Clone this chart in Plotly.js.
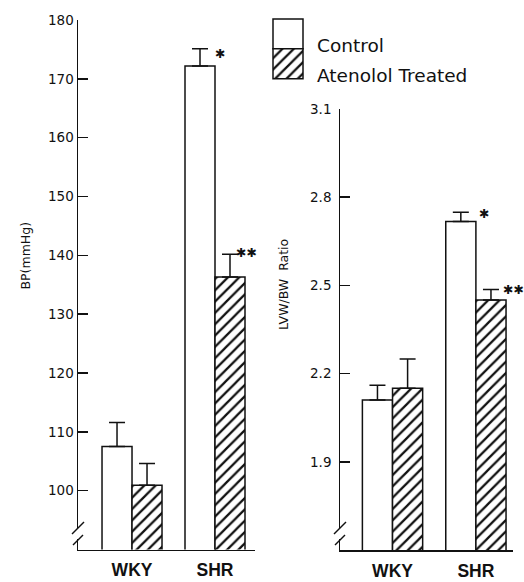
<!DOCTYPE html>
<html>
<head>
<meta charset="utf-8">
<script src="https://cdn.plot.ly/plotly-3.0.1.min.js"></script>
<style>html,body{margin:0;padding:0;background:#fff;}#chart{width:524px;height:582px;}</style>
</head>
<body>
<div id="chart"></div>
<script>
// ---- data ----
const categories = ['WKY', 'SHR'];
const seriesNames = ['Control', 'Atenolol Treated'];

const bpControl = [107.5, 172.2];
const bpControlErr = [4.1, 2.9];
const bpAtenolol = [100.9, 136.3];
const bpAtenololErr = [3.7, 3.9];

const lvwControl = [2.11, 2.717];
const lvwControlErr = [0.05, 0.032];
const lvwAtenolol = [2.15, 2.45];
const lvwAtenololErr = [0.10, 0.036];

const bpTicks = [100, 110, 120, 130, 140, 150, 160, 170, 180];
const lvwTicks = [1.9, 2.2, 2.5, 2.8, 3.1];
const lvwTickText = ['1.9', '2.2', '2.5', '2.8', '3.1'];

const bpTitle = 'BP(mmHg)';
const lvwTitle = 'LVW/BW\u00A0 Ratio';

// ---- helpers ----
const W = 524, H = 582;
const px = v => v / W;
const py = v => 1 - v / H;
const zeros = n => new Array(n).fill(0);

const black = '#111';
const hatch = {shape: '/', fgcolor: black, bgcolor: '#fff', size: 8, solidity: 0.28};
const lineSpec = {color: black, width: 1.5};
const errSpec = arr => ({type: 'data', symmetric: false, array: arr, arrayminus: zeros(arr.length),
  color: black, thickness: 1.5, width: 8});

const traces = [
  {type: 'bar', name: seriesNames[0], x: categories, y: bpControl, xaxis: 'x', yaxis: 'y',
   marker: {color: '#fff', line: lineSpec}, error_y: errSpec(bpControlErr), showlegend: false},
  {type: 'bar', name: seriesNames[1], x: categories, y: bpAtenolol, xaxis: 'x', yaxis: 'y',
   marker: {color: '#fff', pattern: hatch, line: lineSpec}, error_y: errSpec(bpAtenololErr), showlegend: false},
  {type: 'bar', name: seriesNames[0], x: categories, y: lvwControl, xaxis: 'x2', yaxis: 'y2',
   marker: {color: '#fff', line: lineSpec}, error_y: errSpec(lvwControlErr), showlegend: false},
  {type: 'bar', name: seriesNames[1], x: categories, y: lvwAtenolol, xaxis: 'x2', yaxis: 'y2',
   marker: {color: '#fff', pattern: hatch, line: lineSpec}, error_y: errSpec(lvwAtenololErr), showlegend: false},
  // legend swatches
  {type: 'bar', name: seriesNames[0], x: [0], y: [1], base: [1], width: [1], offset: [-0.5],
   xaxis: 'x3', yaxis: 'y3', marker: {color: '#fff', line: lineSpec}, showlegend: false, hoverinfo: 'skip'},
  {type: 'bar', name: seriesNames[1], x: [0], y: [1], base: [0], width: [1], offset: [-0.5],
   xaxis: 'x3', yaxis: 'y3', marker: {color: '#fff', pattern: hatch, line: lineSpec}, showlegend: false, hoverinfo: 'skip'}
];

const tickFont = {family: 'DejaVu Sans', size: 13.5, color: black};
const catFont = {family: 'Liberation Sans', size: 17.5, color: black, weight: 'bold'};

const yCommon = {showline: true, linecolor: black, linewidth: 1.5, ticks: 'inside', ticklen: 10,
  tickwidth: 1.5, tickcolor: black, showgrid: false, zeroline: false, tickfont: tickFont, fixedrange: true,
  tickmode: 'array', layer: 'above traces'};
const xCommon = {showline: true, linecolor: black, linewidth: 1.5, ticks: '', showgrid: false,
  zeroline: false, tickfont: catFont, ticklabelstandoff: 4, type: 'category', fixedrange: true};

const starFont = {family: 'DejaVu Sans', size: 12.5, color: black};
const star = (xref, yref, yval, txt, xs, ys) => ({xref, yref, x: categories[1], y: yval, text: txt,
  showarrow: false, xanchor: 'left', yanchor: 'middle', xshift: xs, yshift: ys, font: starFont});

const annotations = [
  star('x', 'y', bpControl[1] + bpControlErr[1], '\u2731', -2, -5),
  star('x', 'y', bpAtenolol[1] + bpAtenololErr[1], '\u2731\u2731', 19, 2),
  star('x2', 'y2', lvwControl[1] + lvwControlErr[1], '\u2731', 1, -1),
  star('x2', 'y2', lvwAtenolol[1] + lvwAtenololErr[1], '\u2731\u2731', 25, 0),
  {xref: 'paper', yref: 'paper', x: px(15), y: py(256), text: bpTitle, textangle: -90, showarrow: false,
   font: {family: 'DejaVu Sans', size: 12.5, color: black}},
  {xref: 'paper', yref: 'paper', x: px(283), y: py(285), text: lvwTitle, textangle: -90, showarrow: false,
   font: {family: 'DejaVu Sans', size: 12.5, color: black}},
  {xref: 'paper', yref: 'paper', x: px(315), y: py(33), xanchor: 'left', text: seriesNames[0], showarrow: false,
   font: {family: 'DejaVu Sans', size: 18.5, color: black}},
  {xref: 'paper', yref: 'paper', x: px(315), y: py(63), xanchor: 'left', text: seriesNames[1], showarrow: false,
   font: {family: 'DejaVu Sans', size: 18.5, color: black}}
];

// axis-break marks
const breakShapes = [];
[[78, 528, 540], [340, 528, 540]].forEach(([ax, y1, y2]) => {
  breakShapes.push({type: 'rect', xref: 'paper', yref: 'paper', x0: px(ax - 3), x1: px(ax + 3),
    y0: py(y2 - 1), y1: py(y1 + 1), fillcolor: '#fff', line: {width: 0}, layer: 'above'});
  breakShapes.push({type: 'line', xref: 'paper', yref: 'paper', x0: px(ax - 6), y0: py(y1 + 6),
    x1: px(ax + 6), y1: py(y1 - 6), line: {color: black, width: 1.5}, layer: 'above'});
  breakShapes.push({type: 'line', xref: 'paper', yref: 'paper', x0: px(ax - 5), y0: py(y2 + 5),
    x1: px(ax + 5), y1: py(y2 - 5), line: {color: black, width: 1.5}, layer: 'above'});
});

const layout = {
  width: W, height: H,
  margin: {l: 0, r: 0, t: 0, b: 0},
  paper_bgcolor: '#fff', plot_bgcolor: 'rgba(0,0,0,0)',
  barmode: 'group', bargap: 0.277, bargroupgap: 0,
  showlegend: false,
  xaxis: Object.assign({}, xCommon, {domain: [px(78), px(255)], range: [-0.651, 1.482], anchor: 'y'}),
  yaxis: Object.assign({}, yCommon, {domain: [py(549.5), py(20)], range: [90, 180], tickvals: bpTicks,
    anchor: 'x'}),
  xaxis2: Object.assign({}, xCommon, {domain: [px(340), px(513)], range: [-0.63, 1.445], anchor: 'y2'}),
  yaxis2: Object.assign({}, yCommon, {domain: [py(550), py(109)], range: [1.6, 3.1], tickvals: lvwTicks,
    ticktext: lvwTickText.map(t => t + '\u00A0'), anchor: 'x2'}),
  xaxis3: {domain: [px(270), px(306)], range: [-0.6, 0.6], visible: false, anchor: 'y3', fixedrange: true},
  yaxis3: {domain: [py(81.7), py(16)], range: [-0.1, 2.1], visible: false, anchor: 'x3', fixedrange: true},
  annotations: annotations,
  shapes: breakShapes
};

Plotly.newPlot('chart', traces, layout, {displayModeBar: false, staticPlot: true});
</script>
</body>
</html>
